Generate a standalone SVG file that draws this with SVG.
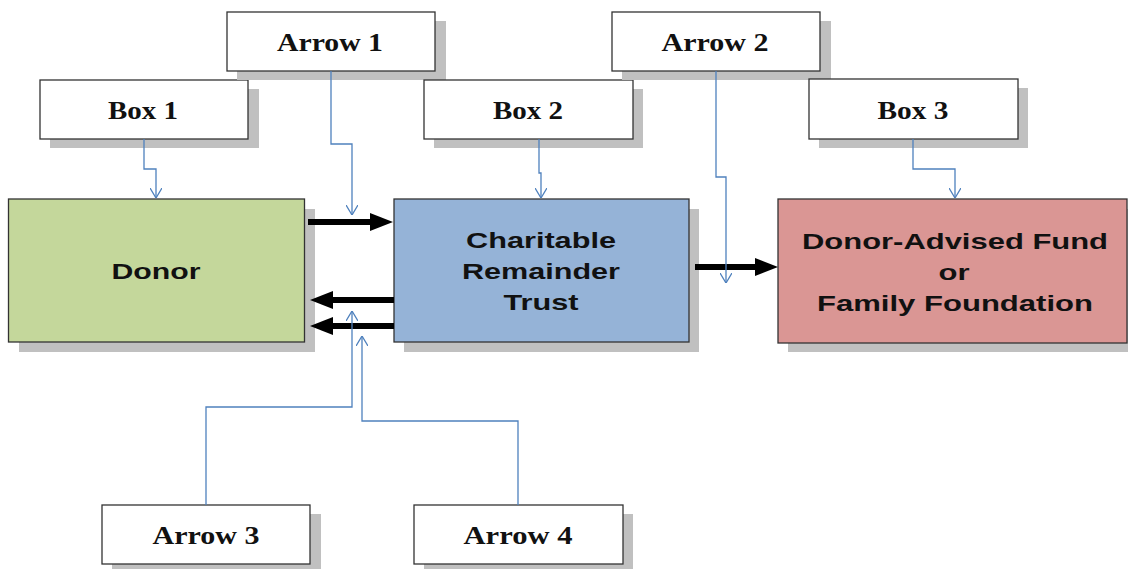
<svg xmlns="http://www.w3.org/2000/svg" width="1128" height="569" viewBox="0 0 1128 569">
<defs>
<style>
.shadow{fill:#c0c0c0}
.lbl{fill:#ffffff;stroke:#333333;stroke-width:1.3}
.node{stroke:#333333;stroke-width:1.3}
.serif{font-family:"Liberation Serif","Times New Roman",serif;font-weight:bold;font-size:26px;fill:#111111;text-anchor:middle}
.sans{font-family:"Liberation Sans",Arial,sans-serif;font-weight:bold;font-size:22px;fill:#111111;text-anchor:middle}
.conn{fill:none;stroke:#4f81bd;stroke-width:1.3}
.big{fill:#000000}
</style>
<marker id="v" viewBox="0 0 10 12" refX="10" refY="6" markerWidth="10" markerHeight="12" markerUnits="userSpaceOnUse" orient="auto">
<path d="M0,0 L10,6 L0,12" fill="none" stroke="#4f81bd" stroke-width="1.3"/>
</marker>
</defs>
<rect width="1128" height="569" fill="#ffffff"/>

<g id="donor">
<rect class="shadow" x="19" y="209" width="296" height="143"/>
<rect class="node" x="8.5" y="199" width="296" height="143" fill="#c4d79b"/>
<text class="sans" x="156" y="279" textLength="89" lengthAdjust="spacingAndGlyphs">Donor</text>
</g>

<g id="crt">
<rect class="shadow" x="404" y="209" width="295" height="143"/>
<rect class="node" x="394" y="199" width="295" height="143" fill="#95b3d7"/>
<text class="sans" x="541" y="248" textLength="150" lengthAdjust="spacingAndGlyphs">Charitable</text>
<text class="sans" x="541" y="279" textLength="158" lengthAdjust="spacingAndGlyphs">Remainder</text>
<text class="sans" x="541" y="310" textLength="75" lengthAdjust="spacingAndGlyphs">Trust</text>
</g>

<g id="daf">
<rect class="shadow" x="788" y="209" width="345" height="143"/>
<rect class="node" x="778" y="199" width="349" height="144" fill="#da9694"/>
<text class="sans" x="955" y="249" textLength="306" lengthAdjust="spacingAndGlyphs">Donor-Advised Fund</text>
<text class="sans" x="954" y="280" textLength="31" lengthAdjust="spacingAndGlyphs">or</text>
<text class="sans" x="955" y="311" textLength="276" lengthAdjust="spacingAndGlyphs">Family Foundation</text>
</g>

<g id="box1">
<rect class="shadow" x="50" y="89" width="209" height="59"/>
<rect class="lbl" x="40" y="80" width="208" height="59"/>
<text class="serif" x="143" y="119" textLength="70" lengthAdjust="spacingAndGlyphs">Box 1</text>
</g>

<g id="arrow1">
<rect class="shadow" x="237" y="21" width="209" height="59"/>
<rect class="lbl" x="227" y="12" width="208" height="59"/>
<text class="serif" x="330" y="51" textLength="106" lengthAdjust="spacingAndGlyphs">Arrow 1</text>
</g>

<g id="box2">
<rect class="shadow" x="434" y="89" width="209" height="59"/>
<rect class="lbl" x="424" y="80" width="209" height="59"/>
<text class="serif" x="528" y="119" textLength="70" lengthAdjust="spacingAndGlyphs">Box 2</text>
</g>

<g id="arrow2">
<rect class="shadow" x="622" y="21" width="209" height="59"/>
<rect class="lbl" x="612" y="12" width="208" height="59"/>
<text class="serif" x="715" y="51" textLength="107" lengthAdjust="spacingAndGlyphs">Arrow 2</text>
</g>

<g id="box3">
<rect class="shadow" x="819" y="88" width="209" height="60"/>
<rect class="lbl" x="809" y="79" width="209" height="60"/>
<text class="serif" x="913" y="119" textLength="71" lengthAdjust="spacingAndGlyphs">Box 3</text>
</g>

<g id="arrow3">
<rect class="shadow" x="112" y="514" width="209" height="60"/>
<rect class="lbl" x="102" y="505" width="208" height="59"/>
<text class="serif" x="206" y="544" textLength="107" lengthAdjust="spacingAndGlyphs">Arrow 3</text>
</g>

<g id="arrow4">
<rect class="shadow" x="424" y="514" width="209" height="60"/>
<rect class="lbl" x="414" y="505" width="209" height="59"/>
<text class="serif" x="518" y="544" textLength="109" lengthAdjust="spacingAndGlyphs">Arrow 4</text>
</g>

<g id="connectors">
<rect class="big" x="308" y="219" width="64" height="6"/>
<polygon class="big" points="370,213 393,222 370,231"/>
<rect class="big" x="331" y="297" width="63" height="6"/>
<polygon class="big" points="333,291 310,300 333,309"/>
<rect class="big" x="331" y="323" width="63" height="6"/>
<polygon class="big" points="333,317 310,326 333,335"/>
<rect class="big" x="695" y="264" width="62" height="6"/>
<polygon class="big" points="755,258 778,267 755,276"/>

<path class="conn" d="M144 139 V169 H156 V198" marker-end="url(#v)"/>
<path class="conn" d="M331 71 V144 H352 V215" marker-end="url(#v)"/>
<path class="conn" d="M539 139 V173 H541 V198" marker-end="url(#v)"/>
<path class="conn" d="M716 71 V177 H726 V283" marker-end="url(#v)"/>
<path class="conn" d="M913 139 V169 H955 V198" marker-end="url(#v)"/>
<path class="conn" d="M206 505 V407 H352 V311" marker-end="url(#v)"/>
<path class="conn" d="M518 505 V421 H362 V336" marker-end="url(#v)"/>
</g>
</svg>
